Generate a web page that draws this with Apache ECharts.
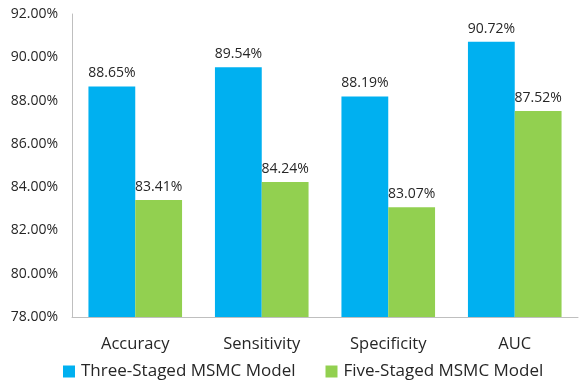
<!DOCTYPE html>
<html>
<head>
<meta charset="utf-8">
<script src="https://cdn.jsdelivr.net/npm/echarts@6/dist/echarts.min.js"></script>
<style>
  html, body { margin: 0; padding: 0; background: #fff; }
  #chart { width: 581px; height: 383px; }
</style>
</head>
<body>
<div id="chart"></div>
<script>
// Model comparison metrics (percent)
const categories = ['Accuracy', 'Sensitivity', 'Specificity', 'AUC'];
const threeStaged = [88.65, 89.54, 88.19, 90.72];
const fiveStaged = [83.41, 84.24, 83.07, 87.52];
const seriesNames = ['Three-Staged MSMC Model', 'Five-Staged MSMC Model'];
const yMin = 78, yMax = 92, yStep = 2;

const font = 'Open Sans, Liberation Sans, sans-serif';
const textColor = '#262626';

const chart = echarts.init(document.getElementById('chart'), null, { renderer: 'canvas' });

function barSeries(name, values, color) {
  return {
    name: name,
    type: 'bar',
    data: values,
    barGap: '0%',
    barCategoryGap: '26%',
    itemStyle: { color: color },
    label: {
      show: true,
      position: 'top',
      distance: 6,
      color: textColor,
      fontFamily: font,
      fontSize: 14,
      formatter: p => p.value.toFixed(2) + '%'
    }
  };
}

chart.setOption({
  animation: false,
  textStyle: { fontFamily: font },
  grid: { left: 72, right: 3, top: 14, bottom: 66 },
  legend: {
    left: 63,
    top: 363,
    padding: 0,
    itemWidth: 12,
    itemHeight: 12,
    itemGap: 30,
    icon: 'rect',
    textStyle: { color: textColor, fontFamily: font, fontSize: 17, padding: [0, 0, 0, 1] },
    data: seriesNames
  },
  xAxis: {
    type: 'category',
    data: categories,
    axisTick: { show: false },
    axisLine: { lineStyle: { color: '#BFBFBF' } },
    axisLabel: { color: textColor, fontFamily: font, fontSize: 16.5, margin: 19 }
  },
  yAxis: {
    type: 'value',
    min: yMin,
    max: yMax,
    interval: yStep,
    splitLine: { show: false },
    axisTick: { show: false },
    axisLine: { show: true, lineStyle: { color: '#BFBFBF' } },
    axisLabel: {
      color: textColor,
      fontFamily: font,
      fontSize: 14,
      margin: 14,
      formatter: v => v.toFixed(2) + '%'
    }
  },
  series: [
    barSeries(seriesNames[0], threeStaged, '#00B0F0'),
    barSeries(seriesNames[1], fiveStaged, '#92D050')
  ]
});
</script>
</body>
</html>
